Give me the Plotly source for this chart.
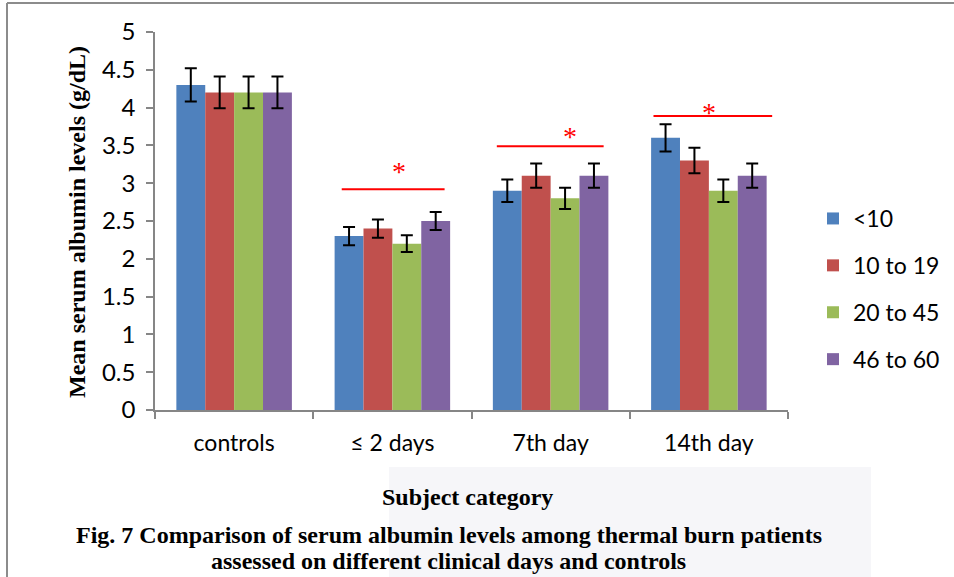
import plotly.graph_objects as go

categories = ["controls", "≤ 2 days", "7th day", "14th day"]
series_names = ["<10", "10 to 19", "20 to 45", "46 to 60"]
values_lt10 = [4.3, 2.3, 2.9, 3.6]
values_10_19 = [4.2, 2.4, 3.1, 3.3]
values_20_45 = [4.2, 2.2, 2.8, 2.9]
values_46_60 = [4.2, 2.5, 3.1, 3.1]
err_lt10 = [0.22, 0.12, 0.15, 0.18]
err_10_19 = [0.21, 0.12, 0.16, 0.17]
err_20_45 = [0.21, 0.11, 0.14, 0.15]
err_46_60 = [0.21, 0.12, 0.16, 0.16]

# significance markers (category index, bracket level, star level)
sig_category_index = [1, 2, 3]
sig_line_level = [2.92, 3.49, 3.89]
sig_star_level = [3.2, 3.66, 3.97]

colors = ["#4F81BD", "#C0504D", "#9BBB59", "#8064A2"]
all_values = [values_lt10, values_10_19, values_20_45, values_46_60]
all_errs = [err_lt10, err_10_19, err_20_45, err_46_60]

fig = go.Figure()
for i, (name, vals, errs) in enumerate(zip(series_names, all_values, all_errs)):
    fig.add_trace(go.Bar(
        x=categories, y=vals, name=name, legendgroup=name,
        marker=dict(color=colors[i], line=dict(width=0)),
        error_y=dict(type="data", array=errs, visible=True,
                     color="black", thickness=2, width=6),
    ))

W, H = 954, 577
L, R, T, B = 155, 166, 32, 167
pw, ph = W - L - R, H - T - B

def px2x(px):
    return (px - L) / pw

def py2y(py):
    return (H - B - py) / ph

shapes = []
annotations = []

# significance brackets
sig_start_off = [-0.32, -0.34, -0.35]
sig_end_off = [0.33, 0.335, 0.40]
star_off = [0.044, 0.12, 0.057]
n = len(categories)
for k, ci in enumerate(sig_category_index):
    shapes.append(dict(type="line", xref="paper", yref="y",
                       x0=(ci + 0.5 + sig_start_off[k]) / n,
                       x1=(ci + 0.5 + sig_end_off[k]) / n,
                       y0=sig_line_level[k], y1=sig_line_level[k],
                       line=dict(color="#FF0000", width=2)))
    annotations.append(dict(xref="paper", yref="y",
                            x=(ci + 0.5 + star_off[k]) / n, y=sig_star_level[k],
                            text="*", showarrow=False, yanchor="middle",
                            yshift=-3,
                            font=dict(family="Liberation Serif", size=28, color="#FF0000")))

# faint watermark area
shapes.append(dict(type="rect", xref="paper", yref="paper", layer="below",
                   x0=px2x(389), x1=px2x(871), y0=py2y(467), y1=py2y(580),
                   fillcolor="#F6F6F9", line=dict(width=0)))
# outer frame (top and left edges)
shapes.append(dict(type="line", xref="paper", yref="paper",
                   x0=px2x(7), x1=px2x(960), y0=py2y(3), y1=py2y(3),
                   line=dict(color="#8C8C8C", width=2)))
shapes.append(dict(type="line", xref="paper", yref="paper",
                   x0=px2x(7), x1=px2x(7), y0=py2y(3), y1=py2y(580),
                   line=dict(color="#8C8C8C", width=2)))

serif_bold = dict(family="Liberation Serif", size=24, color="black")
annotations.append(dict(xref="paper", yref="paper", x=px2x(77), y=py2y(222),
                        text="<b>Mean serum albumin levels (g/dL)</b>", textangle=-90,
                        showarrow=False, xanchor="center", yanchor="middle",
                        font=serif_bold))
annotations.append(dict(xref="paper", yref="paper", x=px2x(467), y=py2y(497),
                        text="<b>Subject category</b>",
                        showarrow=False, xanchor="center", yanchor="middle",
                        font=serif_bold))
annotations.append(dict(xref="paper", yref="paper", x=px2x(449), y=py2y(535),
                        text="<b>Fig. 7 Comparison of serum albumin levels among thermal burn patients</b>",
                        showarrow=False, xanchor="center", yanchor="middle",
                        font=serif_bold))
annotations.append(dict(xref="paper", yref="paper", x=px2x(448), y=py2y(561),
                        text="<b>assessed on different clinical days and controls</b>",
                        showarrow=False, xanchor="center", yanchor="middle",
                        font=serif_bold))

fig.update_layout(
    width=W, height=H,
    margin=dict(l=L, r=R, t=T, b=B, autoexpand=False),
    paper_bgcolor="white", plot_bgcolor="white",
    barmode="group", bargap=0.27, bargroupgap=0,
    font=dict(family="Lato", size=23, color="black"),
    showlegend=True,
    legend=dict(x=px2x(813), y=py2y(197), xanchor="left", yanchor="top",
                traceorder="grouped", tracegroupgap=14,
                font=dict(family="Lato", size=23, color="black"),
                bgcolor="rgba(0,0,0,0)"),
    shapes=shapes, annotations=annotations,
)
fig.update_yaxes(range=[0, 5], dtick=0.5, showgrid=False, zeroline=False,
                 showline=True, linecolor="#868686", linewidth=1.5,
                 ticks="outside", ticklen=7, tickcolor="#868686", tickwidth=1.5,
                 ticklabelstandoff=6,
                 tickfont=dict(family="Lato", size=24, color="black"))
fig.update_xaxes(showgrid=False, showline=True, linecolor="#868686", linewidth=1.5,
                 ticks="outside", ticklen=7, tickcolor="#868686", tickwidth=1.5,
                 tickson="boundaries", ticklabelstandoff=12,
                 tickfont=dict(family="Lato", size=23, color="black"))

fig.write_html("out.html", config={"displayModeBar": False},
               post_script="document.body.style.margin='0';document.body.style.overflow='hidden';")
